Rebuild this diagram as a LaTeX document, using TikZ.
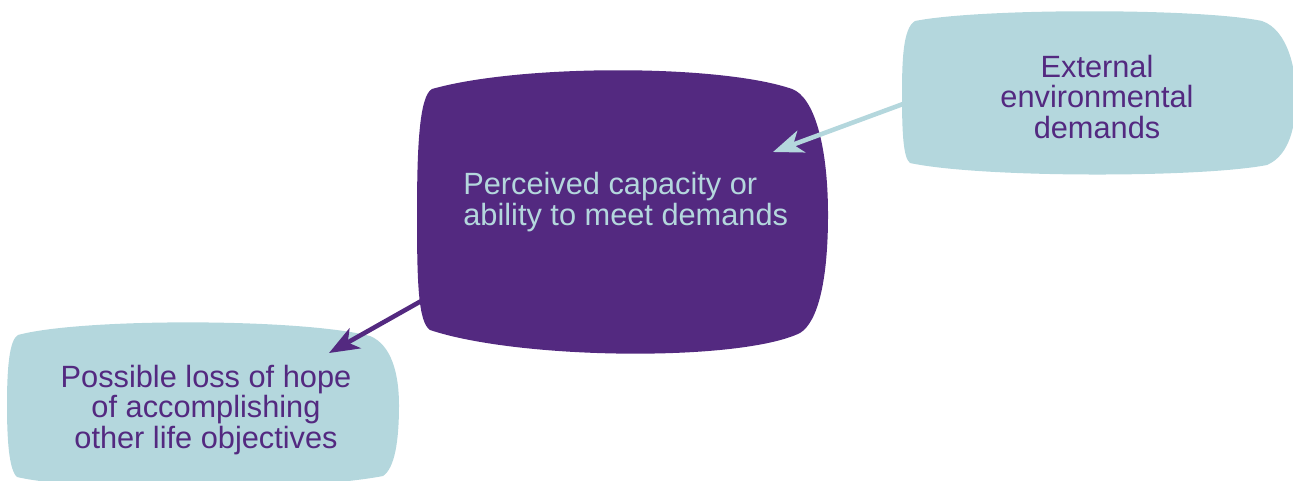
\documentclass[tikz,border=0pt]{standalone}
\usepackage{fontspec}
\setmainfont{Liberation Sans}
\usetikzlibrary{arrows.meta}
\definecolor{plum}{RGB}{83,41,128}
\definecolor{mist}{RGB}{180,215,221}
\begin{document}
\begin{tikzpicture}[x=0.02cm, y=-0.02cm,
        darkblob/.style={fill=plum, draw=none},
        lightblob/.style={fill=mist, draw=none},
        label/.style={inner sep=0pt, font=\fontsize{17.5}{17.6}\selectfont},
        flow/.style={line width=2.6pt, -{Stealth[length=0.6cm, width=0.46cm, inset=0.17cm]}}]
            \useasboundingbox (0, 0) rectangle (1293, 480);
            \fill[darkblob] (432, 89) .. controls (520, 64) and (720, 64) .. (792, 89)
                .. controls (814, 97) and (828, 145) .. (828, 215)
                .. controls (828, 280) and (818, 322) .. (800, 333)
                .. controls (740, 362) and (520, 360) .. (430, 330)
                .. controls (418, 322) and (417, 280) .. (417, 215)
                .. controls (417, 150) and (419, 96) .. (432, 89) -- cycle;
            \fill[lightblob] (915, 21) .. controls (980, 8) and (1200, 8) .. (1262, 21)
                .. controls (1288, 30) and (1296, 70) .. (1296, 95)
                .. controls (1296, 125) and (1290, 155) .. (1267, 165)
                .. controls (1200, 178) and (980, 178) .. (910, 163)
                .. controls (903, 158) and (902, 130) .. (902, 95)
                .. controls (902, 60) and (903, 28) .. (915, 21) -- cycle;
            \fill[lightblob] (18, 335) .. controls (80, 318) and (300, 318) .. (370, 336)
                .. controls (392, 345) and (399, 375) .. (399, 405)
                .. controls (399, 440) and (395, 468) .. (383, 476)
                .. controls (300, 492) and (80, 492) .. (17, 477)
                .. controls (9, 470) and (7, 440) .. (7, 405)
                .. controls (7, 370) and (9, 340) .. (18, 335) -- cycle;
            \node[label, text=mist, align=left, anchor=west] (capacity) at (463, 202)
                {Perceived capacity or\\ability to meet demands};
            \node[label, text=plum, align=center] (external) at (1097, 97)
                {External\\environmental\\demands};
            \node[label, text=plum, align=center] (loss) at (206, 410)
                {Possible loss of hope\\of accomplishing\\other life objectives};
            \coordinate (externaledge) at (903, 104);
            \coordinate (capacitytip) at (773, 152);
            \coordinate (capacityedge) at (423, 300);
            \coordinate (losstip) at (329, 353);
            \draw[flow, mist] (externaledge) -- (capacitytip);
            \draw[flow, plum] (capacityedge) -- (losstip);
        \end{tikzpicture}
\end{document}
